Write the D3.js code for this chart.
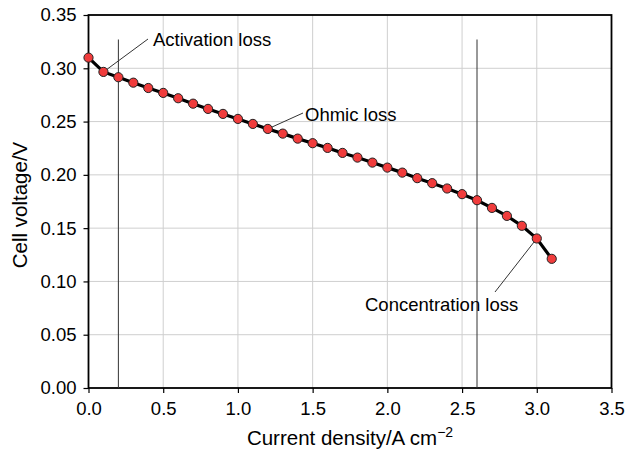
<!DOCTYPE html>
<html lang="en">
<head>
<meta charset="UTF-8">
<title>Polarization curve</title>
<script src="https://cdn.jsdelivr.net/npm/d3@7"></script>
<style>
  body { margin: 0; background: #fff; }
  text { font-family: "Liberation Sans", Arial, sans-serif; fill: #000; }
</style>
</head>
<body>
<script>
    // current density (A cm^-2) and measured cell voltage (V)
    var current = [0.0, 0.1, 0.2, 0.3, 0.4, 0.5, 0.6, 0.7, 0.8, 0.9, 1.0,
                   1.1, 1.2, 1.3, 1.4, 1.5, 1.6, 1.7, 1.8, 1.9, 2.0,
                   2.1, 2.2, 2.3, 2.4, 2.5, 2.6, 2.7, 2.8, 2.9, 3.0, 3.1];
    var voltage = [0.310, 0.2966, 0.2916, 0.2865, 0.2815, 0.2769, 0.2719, 0.2668, 0.2619, 0.2572, 0.2525,
                   0.2478, 0.2431, 0.2387, 0.2340, 0.2297, 0.2253, 0.2206, 0.2162, 0.2115, 0.2068,
                   0.2021, 0.1969, 0.1922, 0.1872, 0.1819, 0.1762, 0.1690, 0.1615, 0.1522, 0.1403, 0.1212];
    var xTicks = [0, 0.5, 1.0, 1.5, 2.0, 2.5, 3.0, 3.5];
    var yTicks = [0, 0.05, 0.10, 0.15, 0.20, 0.25, 0.30, 0.35];
    var regionBounds = [0.2, 2.6];   // vertical separators
    var notes = [
        {label: "Activation loss", at: 1, text: [153, 39.5], end: [148, 39]},
        {label: "Ohmic loss", at: 12, text: [305, 114.5], end: [303, 113]},
        {label: "Concentration loss", at: 30, text: [365, 304.5], end: [495, 292]}
    ];

    var width = 627, height = 454;
    var margin = {left: 88.5, right: 15.5, top: 15, bottom: 66};
    var tickFont = 18.5, titleFont = 20.5;

    var svg = d3.select("body").append("svg")
        .attr("width", width)
        .attr("height", height);

    var x = d3.scaleLinear().domain([0, 3.5]).range([margin.left, width - margin.right]);
    var y = d3.scaleLinear().domain([0, 0.35]).range([height - margin.bottom, margin.top]);

    // grid
    svg.append("g").selectAll("line.gx")
        .data(xTicks.slice(1, -1)).enter().append("line")
        .attr("x1", d => x(d)).attr("x2", d => x(d))
        .attr("y1", y(0)).attr("y2", y(0.35))
        .attr("stroke", "#cfcfcf").attr("stroke-width", 1);
    svg.append("g").selectAll("line.gy")
        .data(yTicks.slice(1, -1)).enter().append("line")
        .attr("x1", x(0)).attr("x2", x(3.5))
        .attr("y1", d => y(d)).attr("y2", d => y(d))
        .attr("stroke", "#cfcfcf").attr("stroke-width", 1);

    // axes
    var xAxis = svg.append("g")
        .attr("transform", "translate(0," + y(0) + ")")
        .call(d3.axisBottom(x).tickValues(xTicks).tickFormat(d3.format(".1f")).tickSize(5).tickPadding(9));
    var yAxis = svg.append("g")
        .attr("transform", "translate(" + x(0) + ",0)")
        .call(d3.axisLeft(y).tickValues(yTicks).tickFormat(d3.format(".2f")).tickSize(5).tickPadding(7));
    [xAxis, yAxis].forEach(function (g) {
        g.select(".domain").remove();
        g.selectAll("line").attr("stroke", "#000").attr("stroke-width", 1.2);
        g.selectAll("text").attr("font-size", tickFont).attr("font-family", "Liberation Sans, Arial, sans-serif");
    });

    // frame
    svg.append("rect")
        .attr("x", x(0)).attr("y", y(0.35))
        .attr("width", x(3.5) - x(0)).attr("height", y(0) - y(0.35))
        .attr("fill", "none").attr("stroke", "#000").attr("stroke-width", 1.8);

    // region separators
    svg.selectAll("line.sep")
        .data(regionBounds).enter().append("line")
        .attr("x1", d => x(d)).attr("x2", d => x(d))
        .attr("y1", y(0.327)).attr("y2", y(0))
        .attr("stroke", "#333").attr("stroke-width", 1);

    var pts = current.map(function (c, i) { return [c, voltage[i]]; });

    // curve
    svg.append("path")
        .datum(pts)
        .attr("d", d3.line().x(d => x(d[0])).y(d => y(d[1])))
        .attr("fill", "none").attr("stroke", "#000").attr("stroke-width", 3.2);

    // leader lines
    svg.selectAll("line.lead")
        .data(notes).enter().append("line")
        .attr("x1", d => x(current[d.at])).attr("y1", d => y(voltage[d.at]))
        .attr("x2", d => d.end[0]).attr("y2", d => d.end[1])
        .attr("stroke", "#333").attr("stroke-width", 1);

    // markers
    svg.selectAll("circle")
        .data(pts).enter().append("circle")
        .attr("cx", d => x(d[0])).attr("cy", d => y(d[1]))
        .attr("r", 4.6)
        .attr("fill", "#f03c3c").attr("stroke", "#222").attr("stroke-width", 1);

    // notes
    svg.selectAll("text.note")
        .data(notes).enter().append("text")
        .attr("x", d => d.text[0]).attr("y", d => d.text[1])
        .attr("dy", "0.35em")
        .attr("font-size", tickFont)
        .text(d => d.label);

    // axis titles
    var xt = svg.append("text")
        .attr("x", x(1.75)).attr("y", 445)
        .attr("text-anchor", "middle").attr("font-size", titleFont);
    xt.append("tspan").text("Current density/A cm");
    xt.append("tspan").attr("dy", -8).attr("font-size", 14).text("\u22122");

    svg.append("text")
        .attr("transform", "translate(27,205) rotate(-90)")
        .attr("text-anchor", "middle").attr("font-size", titleFont)
        .text("Cell voltage/V");
</script>
</body>
</html>
